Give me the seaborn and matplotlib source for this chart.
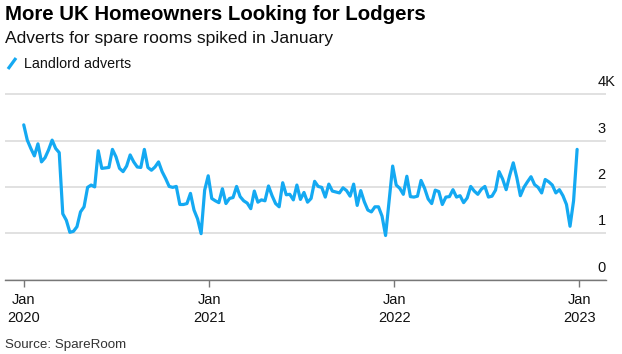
import numpy as np
import pandas as pd
import matplotlib
matplotlib.use("Agg")
import matplotlib.pyplot as plt
import matplotlib.dates as mdates
import matplotlib.transforms as mtrans
from matplotlib.lines import Line2D
import seaborn as sns

# ---- data (thousands of landlord adverts, weekly) ----
start_date = "2020-01-01"
adverts_k = [
    3.34, 3.01, 2.83, 2.67, 2.93, 2.54, 2.63, 2.80, 3.01, 2.83,
    2.74, 1.42, 1.28, 1.02, 1.04, 1.14, 1.46, 1.57, 1.99, 2.04,
    2.00, 2.78, 2.40, 2.41, 2.42, 2.81, 2.65, 2.40, 2.33, 2.45,
    2.69, 2.54, 2.43, 2.42, 2.81, 2.42, 2.36, 2.43, 2.54, 2.33,
    2.18, 2.01, 1.99, 2.01, 1.62, 1.62, 1.64, 1.86, 1.50, 1.31,
    0.99, 1.93, 2.24, 1.75, 1.70, 1.66, 1.96, 1.64, 1.75, 1.77,
    2.01, 1.79, 1.70, 1.65, 1.53, 1.91, 1.67, 1.72, 1.70, 2.02,
    1.81, 1.64, 1.57, 2.09, 1.83, 1.84, 1.72, 2.04, 1.73, 1.88,
    1.67, 1.75, 2.12, 2.01, 1.99, 1.78, 2.06, 1.91, 1.89, 1.87,
    1.98, 1.92, 1.80, 2.06, 1.60, 1.92, 1.68, 1.50, 1.46, 1.57,
    1.57, 1.37, 0.95, 1.70, 2.45, 2.04, 1.97, 1.84, 2.23, 1.79,
    1.78, 1.80, 2.14, 1.97, 1.74, 1.64, 1.93, 1.90, 1.62, 1.78,
    1.79, 1.94, 1.78, 1.81, 1.66, 1.76, 2.01, 1.91, 1.84, 1.95,
    2.01, 1.78, 1.80, 1.93, 2.33, 2.17, 1.94, 2.25, 2.52, 2.20,
    1.81, 1.99, 2.11, 2.22, 2.05, 1.99, 1.87, 2.16, 2.11, 2.04,
    1.87, 1.94, 1.81, 1.62, 1.15, 1.70, 2.81,
]
dates = pd.date_range(start_date, periods=len(adverts_k), freq="7D")

y_ticks = [0, 1, 2, 3, 4]
y_tick_labels = ["0", "1", "2", "3", "4K"]
x_tick_dates = ["2020-01-01", "2021-01-01", "2022-01-01", "2023-01-01"]
x_tick_labels = ["Jan\n2020", "Jan\n2021", "Jan\n2022", "Jan\n2023"]

title = "More UK Homeowners Looking for Lodgers"
subtitle = "Adverts for spare rooms spiked in January"
legend_label = "Landlord adverts"
source = "Source: SpareRoom"

line_color = "#14A9F2"
grid_color = "#DEDEDE"

df = pd.DataFrame({"date": dates, "adverts": adverts_k})

sns.set_theme(style="white")
plt.rcParams["font.family"] = ["Liberation Sans", "DejaVu Sans"]

W, H = 622, 354
fig = plt.figure(figsize=(W / 100, H / 100), dpi=100)
ax_left, ax_right = 5, 605.5
ax_bottom_px = 279.5
px_per_unit = 46.3
ymax = 4.15
ax_top_px = ax_bottom_px - ymax * px_per_unit
ax = fig.add_axes([ax_left / W, (H - ax_bottom_px) / H,
                   (ax_right - ax_left) / W, (ax_bottom_px - ax_top_px) / H])

sns.lineplot(data=df, x="date", y="adverts", ax=ax, color=line_color,
             linewidth=2.3, solid_joinstyle="round", solid_capstyle="round")

ax.set_xlim(pd.Timestamp("2019-11-25"), pd.Timestamp("2023-02-22"))
ax.set_ylim(0, ymax)

for s in ["top", "left", "right"]:
    ax.spines[s].set_visible(False)
ax.spines["bottom"].set_color("#777777")
ax.spines["bottom"].set_linewidth(1.0)

ax.set_yticks(y_ticks)
ax.set_yticklabels([])
ax.tick_params(axis="y", length=0)
ax.grid(axis="y", color=grid_color, linewidth=1.3)
ax.grid(axis="x", visible=False)
ax.set_axisbelow(True)

ax.set_xticks([pd.Timestamp(d) for d in x_tick_dates])
ax.set_xticklabels(x_tick_labels, fontsize=10.5, color="#111111", linespacing=1.3)
ax.tick_params(axis="x", length=5, width=1.0, color="#777777", pad=5,
               direction="out", bottom=True)
ax.set_xlabel("")
ax.set_ylabel("")

# right-hand y labels sitting above gridlines
ytrans = mtrans.blended_transform_factory(ax.transAxes, ax.transData)
ytrans = mtrans.offset_copy(ytrans, fig=fig, x=0, y=8, units="dots")
lab_x = (597.5 - ax_left) / (ax_right - ax_left)
for v, lab in zip(y_ticks, y_tick_labels):
    ax.text(lab_x, v, lab, transform=ytrans, ha="left", va="baseline",
            fontsize=10.5, color="#111111", clip_on=False)

# titles
fig.text(5 / W, 1 - 14 / H, title, fontsize=14.7, fontweight="bold",
         ha="left", va="center", color="#000000")
fig.text(5 / W, 1 - 39 / H, subtitle, fontsize=12.6, ha="left", va="center",
         color="#111111")
# legend
fig.add_artist(Line2D([8 / W, 16 / W], [1 - 69 / H, 1 - 58 / H],
                      color=line_color, linewidth=2.3, solid_capstyle="butt"))
fig.text(24 / W, 1 - 64 / H, legend_label, fontsize=10.3, ha="left",
         va="center", color="#111111")
# source
fig.text(5 / W, 1 - 345 / H, source, fontsize=9.6, ha="left", va="center",
         color="#333333")

fig.savefig("out.png", dpi=100, facecolor="white")
